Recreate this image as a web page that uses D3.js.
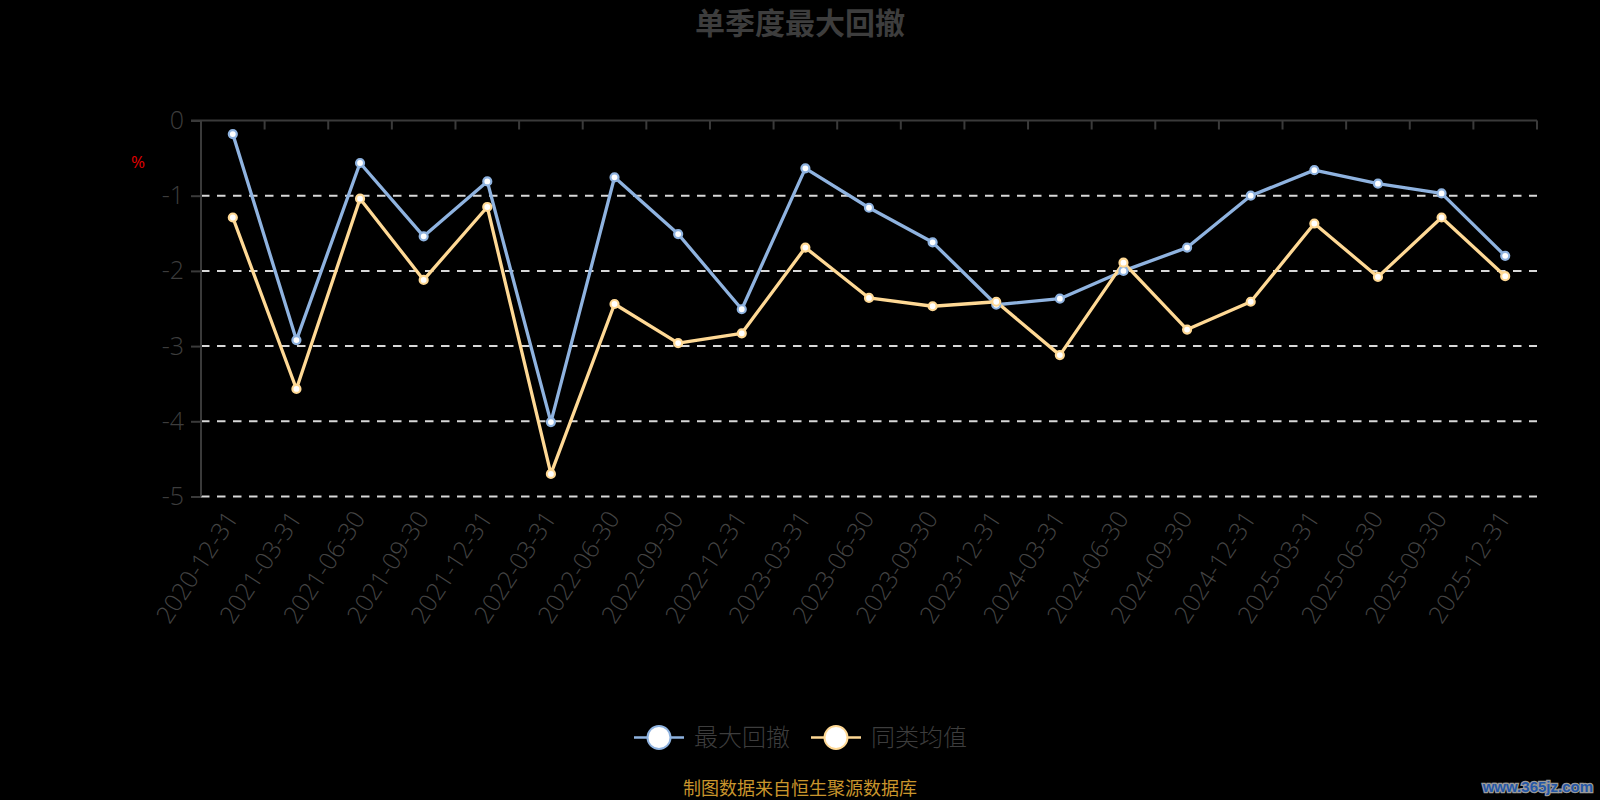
<!DOCTYPE html>
<html>
<head>
<meta charset="utf-8">
<script src="https://cdn.jsdelivr.net/npm/d3@7/dist/d3.min.js"></script>
<style>
html,body{margin:0;padding:0;background:#000;}
svg{display:block;}
</style>
</head>
<body>
<svg id="chart" width="1600" height="800"></svg>
<script>
const categories = ["2020-12-31","2021-03-31","2021-06-30","2021-09-30","2021-12-31","2022-03-31","2022-06-30","2022-09-30","2022-12-31","2023-03-31","2023-06-30","2023-09-30","2023-12-31","2024-03-31","2024-06-30","2024-09-30","2024-12-31","2025-03-31","2025-06-30","2025-09-30","2025-12-31"];
const maxDrawdown = [-0.18,-2.92,-0.565,-1.54,-0.81,-4.01,-0.755,-1.51,-2.51,-0.636,-1.16,-1.62,-2.45,-2.37,-2.0,-1.69,-1.0,-0.66,-0.84,-0.97,-1.80];
const peerAverage = [-1.29,-3.57,-1.04,-2.12,-1.15,-4.70,-2.44,-2.96,-2.83,-1.69,-2.36,-2.47,-2.41,-3.12,-1.89,-2.78,-2.41,-1.37,-2.08,-1.29,-2.07];
const yTicks = [0,-1,-2,-3,-4,-5];
const seriesNames = ["最大回撤","同类均值"];
const titleText = "单季度最大回撤";
const unitText = "%";
const sourceText = "制图数据来自恒生聚源数据库";
const watermarkText = "www.365jz.com";

const colors = ["#8fb3e0","#ffd995"];
const textGray = "#3d3d3d";
const axisGray = "#3a3a3a";
const numFont = "'Open Sans','Noto Sans',sans-serif";
const cjkFont = "'Noto Sans CJK SC','Noto Sans',sans-serif";

const svg = d3.select("#chart");
const plotLeft = 201, plotRight = 1537, plotTop = 120.5, plotBottom = 496.5;

const x = d3.scaleBand().domain(categories).range([plotLeft, plotRight]).padding(0);
const y = d3.scaleLinear().domain([-5, 0]).range([plotBottom, plotTop]);

// title
svg.append("text").attr("x", 800).attr("y", 34).attr("text-anchor","middle")
  .attr("font-family", cjkFont).attr("font-weight", 700).attr("font-size", 30)
  .attr("fill", textGray).text(titleText);

// grid lines
svg.append("g").selectAll("line").data(yTicks.filter(d => d !== 0)).join("line")
  .attr("x1", plotLeft).attr("x2", plotRight)
  .attr("y1", d => y(d)).attr("y2", d => y(d))
  .attr("stroke", "#d8d8d8").attr("stroke-width", 2)
  .attr("stroke-dasharray", "8.5,7.5");

// y axis
const yAxis = d3.axisLeft(y).tickValues(yTicks).tickSize(10).tickPadding(7)
  .tickFormat(d => String(d));
const gy = svg.append("g").attr("transform", `translate(${plotLeft},0)`).call(yAxis);
gy.select(".domain").attr("stroke", axisGray).attr("stroke-width", 2)
  .attr("d", `M0,${plotTop}V${plotBottom}`);
gy.selectAll(".tick line").attr("stroke", axisGray).attr("stroke-width", 2);
gy.selectAll(".tick text").attr("fill", textGray).attr("font-size", 25)
  .attr("font-family", numFont).attr("font-weight", 300);

// x axis line at zero with ticks at category boundaries
const gx = svg.append("g");
gx.append("line").attr("x1", plotLeft - 10).attr("x2", plotRight).attr("y1", y(0)).attr("y2", y(0))
  .attr("stroke", axisGray).attr("stroke-width", 2);
gx.selectAll("line.tk").data(categories).join("line").attr("class","tk")
  .attr("x1", d => x(d) + x.bandwidth()).attr("x2", d => x(d) + x.bandwidth())
  .attr("y1", y(0)).attr("y2", y(0) + 9)
  .attr("stroke", axisGray).attr("stroke-width", 2);

// x labels at the bottom
svg.append("g").selectAll("text").data(categories).join("text")
  .attr("transform", d => `translate(${x(d) + x.bandwidth()/2 - 1},${plotBottom + 17}) rotate(-57)`)
  .attr("text-anchor","end").attr("dy","0.35em")
  .attr("font-family", numFont).attr("font-weight", 300).attr("font-size", 24.5)
  .attr("fill", "#444").text(d => d);

// unit label
svg.append("text").attr("x", 138).attr("y", 162)
  .attr("text-anchor","middle").attr("dy","0.35em")
  .attr("font-family", numFont).attr("font-size", 17).attr("fill", "#e00000").text(unitText);

// series
const series = [maxDrawdown, peerAverage];
const line = d3.line().x((d,i) => x(categories[i]) + x.bandwidth()/2).y(d => y(d));
series.forEach((vals, si) => {
  svg.append("path").datum(vals).attr("d", line)
    .attr("fill","none").attr("stroke", colors[si]).attr("stroke-width", 3.3)
    .attr("stroke-linejoin","round");
});
series.forEach((vals, si) => {
  svg.append("g").selectAll("circle").data(vals).join("circle")
    .attr("cx", (d,i) => x(categories[i]) + x.bandwidth()/2).attr("cy", d => y(d))
    .attr("r", 4).attr("fill", "#fff").attr("stroke", colors[si]).attr("stroke-width", 2.2);
});

// legend
const legendItems = [
  {name: seriesNames[0], color: colors[0], x0: 634},
  {name: seriesNames[1], color: colors[1], x0: 811}
];
const ly = 737.5;
const lg = svg.append("g");
legendItems.forEach(it => {
  lg.append("line").attr("x1", it.x0).attr("x2", it.x0 + 50).attr("y1", ly).attr("y2", ly)
    .attr("stroke", it.color).attr("stroke-width", 2.5);
  lg.append("circle").attr("cx", it.x0 + 25).attr("cy", ly).attr("r", 11.5)
    .attr("fill", "#fff").attr("stroke", it.color).attr("stroke-width", 2);
  lg.append("text").attr("x", it.x0 + 60).attr("y", ly).attr("dy","0.36em")
    .attr("font-family", cjkFont).attr("font-weight", 300).attr("font-size", 24)
    .attr("fill", textGray).text(it.name);
});

// source
svg.append("text").attr("x", 800).attr("y", 789).attr("dy","0.36em").attr("text-anchor","middle")
  .attr("font-family", cjkFont).attr("font-size", 18).attr("fill", "#c9952c").text(sourceText);

// watermark
svg.append("text").attr("x", 1593).attr("y", 792).attr("text-anchor","end")
  .attr("font-family", "'Liberation Sans',sans-serif").attr("font-weight", 700).attr("font-size", 15)
  .attr("fill", "#2457a8").attr("stroke", "#9a9a9a").attr("stroke-width", 2.5)
  .attr("paint-order", "stroke").text(watermarkText);
</script>
</body>
</html>
